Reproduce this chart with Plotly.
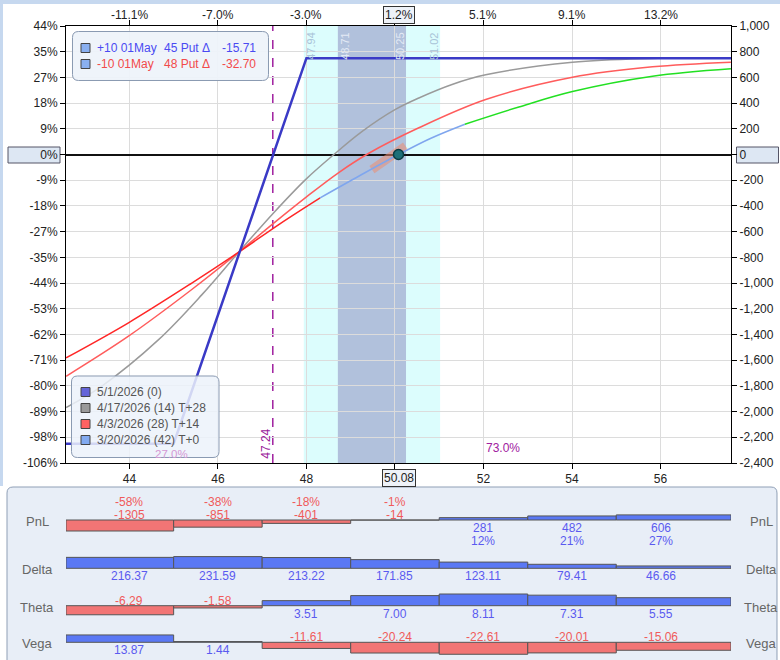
import numpy as np
import plotly.graph_objects as go

# price range shown on the chart (spot 50.08 +/- 15%)
spot = 50.08
x_lo, x_hi = 42.568, 57.592

# expiration line 5/1/2026
exp_price = [x_lo, 45, 48, x_hi]
exp_pnl = [-2250, -2250, 750, 750]

# 4/17/2026 T+28
t28_price = [42.57, 43.37, 44.66, 45.64, 46.47, 47.22, 47.98, 48.62, 49.26, 50.01, 50.54, 51.29, 52.05, 54.01, 55.81, 57.59]
t28_pnl = [-1968, -1803, -1440, -1090, -760, -468, -195, 0, 180, 351, 440, 545, 620, 718, 747, 752]

# 4/3/2026 T+14
t14_price = [42.57, 43.98, 45.41, 46.47, 47.22, 47.98, 48.73, 49.41, 50.54, 52.05, 54.01, 55.82, 57.59]
t14_pnl = [-1725, -1413, -1050, -760, -545, -335, -140, 10, 208, 428, 601, 682, 718]

# 3/20/2026 T+0 (drawn in three colours)
t0_lo_price = [42.57, 43.98, 45.41, 46.47, 47.4, 48.31]
t0_lo_pnl = [-1582, -1309, -1000, -760, -539, -337]
t0_mid_price = [48.31, 49.2, 50.08, 50.8, 51.58]
t0_mid_pnl = [-337, -165, 0, 125, 236]
t0_hi_price = [51.58, 52.8, 54.01, 55.82, 57.59]
t0_hi_pnl = [236, 370, 490, 609, 667]

tangent_price = [49.48, 50.24]
tangent_pnl = [-117, 65]

breakeven = 47.24
sd1 = [48.71, 50.25]
sd2 = [47.94, 51.02]

pnl_ticks = list(range(-2400, 1001, 200))
pct_labels = ['-106%', '-98%', '-89%', '-80%', '-71%', '-62%', '-53%', '-44%', '-35%', '-27%',
              '-18%', '-9%', '0%', '9%', '18%', '27%', '35%', '44%']
x_ticks = [44, 46, 48, 50, 52, 54, 56]
x_labels = ['44', '46', '48', '', '52', '54', '56']
top_labels = ['-11.1%', '-7.0%', '-3.0%', '', '5.1%', '9.1%', '13.2%']
spot_pct = '1.2%'

# bottom panel
bin_centers = [44, 46, 48, 50, 52, 54, 56]
bin_edges = [x_lo, 45, 47, 49, 51, 53, 55, x_hi]
pnl_vals = [-1305, -851, -401, -14, 281, 482, 606]
pnl_pct = ['-58%', '-38%', '-18%', '-1%', '12%', '21%', '27%']
delta_vals = [216.37, 231.59, 213.22, 171.85, 123.11, 79.41, 46.66]
theta_vals = [-6.29, -1.58, 3.51, 7.00, 8.11, 7.31, 5.55]
vega_vals = [13.87, 1.44, -11.61, -20.24, -22.61, -20.01, -15.06]

FONT = 'Liberation Sans, Arial, sans-serif'
W, H = 780, 660
ML, MR, MT, MB = 66, 49, 26, 0


def pxx(X):
    return (X - ML) / (W - ML - MR)


def pxy(Y):
    return (H - MB - Y) / (H - MT - MB)


def rrect(x0, y0, x1, y1, r=5):
    pts = [('M', x0 + r, y0), ('L', x1 - r, y0), ('Q', x1, y0, x1, y0 + r), ('L', x1, y1 - r),
           ('Q', x1, y1, x1 - r, y1), ('L', x0 + r, y1), ('Q', x0, y1, x0, y1 - r),
           ('L', x0, y0 + r), ('Q', x0, y0, x0 + r, y0)]
    s = ''
    for p in pts:
        s += p[0] + ' ' + ' '.join(
            f'{pxx(p[i]):.5f},{pxy(p[i + 1]):.5f}' for i in range(1, len(p), 2)) + ' '
    return s + 'Z'


def note(x, y, text, size=12, color='#222', xanchor='center', xref='paper', **kw):
    # text placed at pixel row y; x in pixels (paper) or in data units (xref='x')
    return dict(x=pxx(x) if xref == 'paper' else x, y=pxy(y), xref=xref, yref='paper',
                text=text, showarrow=False, xanchor=xanchor, yanchor='middle',
                font=dict(size=size, color=color), **kw)


fig = go.Figure()

fig.add_trace(go.Scatter(x=tangent_price, y=tangent_pnl, mode='lines',
                         line=dict(color='rgba(236,140,112,0.55)', width=9)))
fig.add_trace(go.Scatter(x=t28_price, y=t28_pnl, mode='lines', line_shape='spline',
                         line=dict(color='#9a9a9a', width=1.5)))
fig.add_trace(go.Scatter(x=t14_price, y=t14_pnl, mode='lines', line_shape='spline',
                         line=dict(color='#ff5c5c', width=1.5)))
fig.add_trace(go.Scatter(x=t0_lo_price, y=t0_lo_pnl, mode='lines', line_shape='spline',
                         line=dict(color='#ff2626', width=1.5)))
fig.add_trace(go.Scatter(x=t0_mid_price, y=t0_mid_pnl, mode='lines', line_shape='spline',
                         line=dict(color='#7fa6ee', width=1.5)))
fig.add_trace(go.Scatter(x=t0_hi_price, y=t0_hi_pnl, mode='lines', line_shape='spline',
                         line=dict(color='#22e022', width=1.5)))
fig.add_trace(go.Scatter(x=[spot], y=[0], mode='markers',
                         marker=dict(size=10, color='#1e7078', line=dict(color='#0b3c44', width=1.5))))
fig.add_trace(go.Scatter(x=exp_price, y=exp_pnl, mode='lines', yaxis='y7',
                         line=dict(color='#3a3ac6', width=2.5)))

# bottom panel rows
edges = np.array(bin_edges)
mids = (edges[:-1] + edges[1:]) / 2
widths = np.diff(edges)
rows = [('PnL', pnl_vals, 520, 1780), ('Delta', delta_vals, 568.3, 297),
        ('Theta', theta_vals, 605.7, 10.4), ('Vega', vega_vals, 642.3, 28.3)]
NEG, POS = '#f05a5a', '#5a5af0'

annotations = []
layout_axes = {}
for i, (name, vals, base, R) in enumerate(rows):
    k = i + 2
    fig.add_trace(go.Bar(x=mids, y=vals, width=widths, xaxis=f'x{k}', yaxis=f'y{k}',
                         marker=dict(color=['#f27575' if v < 0 else '#5a78f4' for v in vals],
                                     line=dict(color='#555', width=1))))
    layout_axes[f'xaxis{k}'] = dict(matches='x', domain=[0, 1], anchor=f'y{k}', visible=False,
                                    automargin=False)
    layout_axes[f'yaxis{k}'] = dict(domain=[pxy(base + 15), pxy(base - 15)], range=[-R, R],
                                    visible=False, anchor=f'x{k}', automargin=False)
    for j, v in enumerate(vals):
        c = bin_centers[j]
        if name == 'PnL':
            if v < 0:
                annotations.append(note(c, base - 18, pnl_pct[j], color=NEG, xref='x'))
                annotations.append(note(c, base - 5, str(v), color=NEG, xref='x'))
            else:
                annotations.append(note(c, base + 8, str(v), color=POS, xref='x'))
                annotations.append(note(c, base + 21, pnl_pct[j], color=POS, xref='x'))
        else:
            annotations.append(note(c, base - 5 if v < 0 else base + 8, f'{v:.2f}',
                                    color=NEG if v < 0 else POS, xref='x'))
    for xx in (37, 761):
        annotations.append(note(xx, base + 1.5, name, size=13, color='#666'))

# top % labels
for t, lab in zip(x_ticks, top_labels):
    if lab:
        annotations.append(note(t, 15, lab, xref='x'))
annotations.append(note(spot, 15, spot_pct, xref='x', bgcolor='#eef2f8', bordercolor='#333',
                        borderwidth=1, borderpad=1))
annotations.append(note(spot, 477.5, f'{spot:.2f}', xref='x', bgcolor='#eef2f8',
                        bordercolor='#333', borderwidth=1, borderpad=1))

# band labels
for val, shift, col in [(sd2[0], 7, '#a9c3d8'), (sd1[0], 7, '#e4eaf5'),
                        (sd1[1], -6, '#e4eaf5'), (sd2[1], -6, '#a9c3d8')]:
    annotations.append(note(val, 46, f'{val:.2f}', size=11, color=col, xref='x',
                            xshift=shift, textangle=-90))
annotations.append(note(breakeven, 444, f'{breakeven:.2f}', color='#9a1a9a', xref='x',
                        xshift=-7, textangle=-90))
annotations.append(note(171, 454, '27.0%', size=11.5, color='#d498d4'))
annotations.append(note(503, 448, '73.0%', color='#a020a0'))

# legend texts
leg1 = [('+10 01May', '45 Put Δ', '-15.71', '#4a4af2', 48),
        ('-10 01May', '48 Put Δ', '-32.70', '#f24a4a', 64)]
for a, b, c, col, yy in leg1:
    annotations.append(note(95, yy, a, color=col, xanchor='left'))
    annotations.append(note(162, yy, b, color=col, xanchor='left'))
    annotations.append(note(258, yy, c, color=col, xanchor='right'))
leg2 = [('5/1/2026 (0)', '#6464d8', 392), ('4/17/2026 (14) T+28', '#9a9a9a', 408),
        ('4/3/2026 (28) T+14', '#ff6262', 424), ('3/20/2026 (42) T+0', '#82aaf0', 440)]
for txt, col, yy in leg2:
    annotations.append(note(95, yy, txt, color='#555', xanchor='left'))

shapes = [
    # window chrome
    dict(type='rect', xref='paper', yref='paper', x0=pxx(0), x1=pxx(780), y0=pxy(4), y1=pxy(0),
         fillcolor='#c6d8ef', line=dict(width=0), layer='below'),
    dict(type='rect', xref='paper', yref='paper', x0=pxx(0), x1=pxx(3), y0=pxy(486), y1=pxy(0),
         fillcolor='#c6d8ef', line=dict(width=0), layer='below'),
    # bottom panel
    dict(type='path', xref='paper', yref='paper', path=rrect(7, 487, 777, 668, 6),
         fillcolor='#e8eef7', line=dict(color='#8f9fb6', width=1), layer='below'),
    # zero label boxes
    dict(type='rect', xref='paper', yref='paper', x0=pxx(8), x1=pxx(60), y0=pxy(163), y1=pxy(147),
         fillcolor='#dde7f3', line=dict(color='#556', width=1), layer='below'),
    dict(type='rect', xref='paper', yref='paper', x0=pxx(736.5), x1=pxx(778.5), y0=pxy(163),
         y1=pxy(147), fillcolor='#dde7f3', line=dict(color='#556', width=1), layer='below'),
    # bands
    dict(type='rect', xref='x', yref='paper', x0=sd2[0], x1=sd2[1], y0=pxy(463), y1=1,
         fillcolor='#dcfdfd', line=dict(width=0), layer='below'),
    dict(type='rect', xref='x', yref='paper', x0=sd1[0], x1=sd1[1], y0=pxy(463), y1=1,
         fillcolor='#b1c1dc', line=dict(width=0), layer='below'),
    dict(type='line', xref='x', yref='paper', x0=breakeven, x1=breakeven, y0=pxy(463), y1=1,
         line=dict(color='#a0209f', width=1.5, dash='dash'), layer='between'),
    # legend boxes
    dict(type='path', xref='paper', yref='paper', path=rrect(72.5, 31.5, 268.5, 80.5, 6),
         fillcolor='rgba(238,243,250,0.92)', line=dict(color='#8a9ab2', width=1), layer='above'),
    dict(type='path', xref='paper', yref='paper', path=rrect(71.5, 376, 219, 457.5, 6),
         fillcolor='rgba(236,242,250,0.85)', line=dict(color='#8a9ab2', width=1), layer='above'),
]
for yy in (48, 64):
    shapes.append(dict(type='rect', xref='paper', yref='paper', x0=pxx(81), x1=pxx(90),
                       y0=pxy(yy + 4.5), y1=pxy(yy - 4.5), fillcolor='#8ab0f0',
                       line=dict(color='#444', width=1), layer='above'))
for txt, col, yy in leg2:
    shapes.append(dict(type='rect', xref='paper', yref='paper', x0=pxx(81), x1=pxx(90),
                       y0=pxy(yy + 4.5), y1=pxy(yy - 4.5), fillcolor=col,
                       line=dict(color='#444', width=1), layer='above'))

fig.update_layout(
    width=W, height=H, autosize=False,
    margin=dict(l=ML, r=MR, t=MT, b=MB, pad=0),
    paper_bgcolor='white', plot_bgcolor='rgba(0,0,0,0)',
    showlegend=False, font=dict(family=FONT, size=12, color='#222'),
    xaxis=dict(domain=[0, 1], range=[x_lo, x_hi], tickvals=x_ticks, ticktext=x_labels,
               showgrid=True, gridcolor='#dcdcdc', gridwidth=1, zeroline=False,
               showline=True, linecolor='#000', linewidth=1, mirror='ticks',
               ticks='outside', ticklen=5, tickcolor='#000', anchor='y', automargin=False),
    yaxis=dict(domain=[pxy(463), 1], range=[-2400, 1000], tickvals=pnl_ticks, ticktext=pct_labels,
               showgrid=True, gridcolor='#dcdcdc', gridwidth=1, zeroline=True,
               zerolinecolor='#111', zerolinewidth=1.5, showline=True, linecolor='#000',
               ticks='outside', ticklen=5, tickcolor='#000', anchor='x', automargin=False),
    yaxis7=dict(overlaying='y', side='right', range=[-2400, 1000], tickvals=pnl_ticks,
                ticktext=[f'{v:,}' for v in pnl_ticks], showgrid=False, zeroline=False,
                showline=True, linecolor='#000', ticks='outside', ticklen=5, tickcolor='#000',
                anchor='x', automargin=False),
    shapes=shapes,
    annotations=annotations,
    **layout_axes,
)

# the page has a default 8px body margin; drop it so the figure fills the window
fig.write_html('out.html', config={'displayModeBar': False},
               post_script="document.body.style.margin='0';")
